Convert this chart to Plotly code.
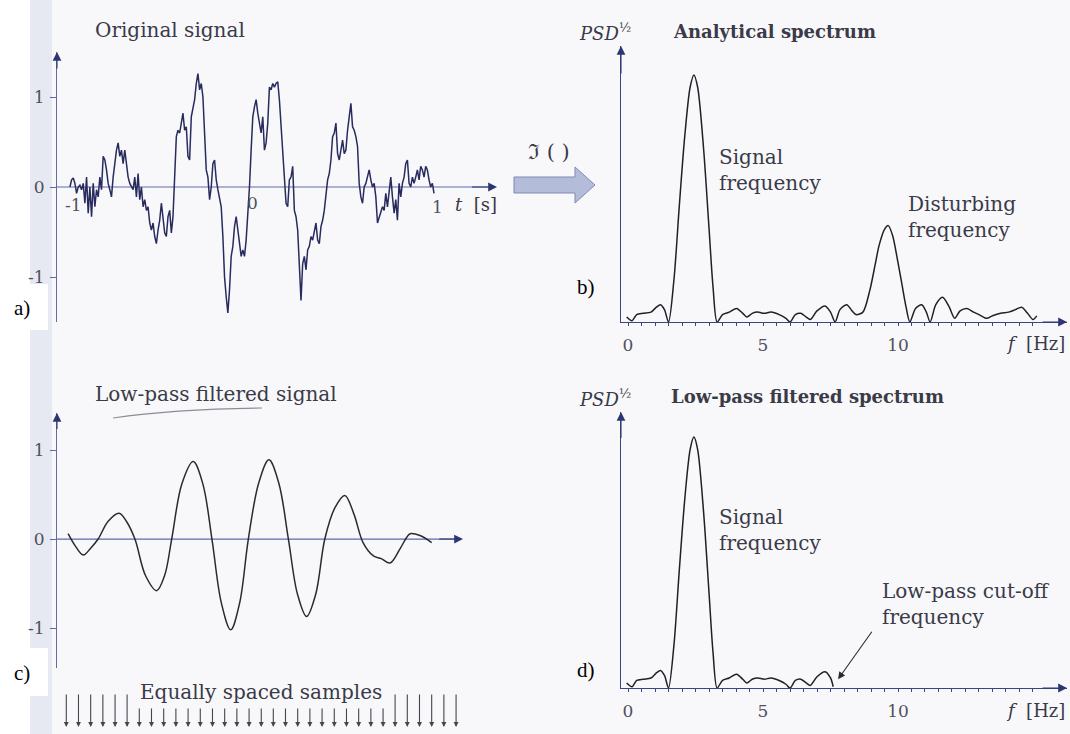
import plotly.graph_objects as go

W, H = 1070, 734

# ---------------- data ----------------
# a) original noisy signal, uniformly sampled from t = -1 s to t = 1 s
orig_t_range = [-1.0, 1.0]
orig_signal = [
    0.00, 0.08, 0.10, 0.04, -0.07, 0.00, 0.02, -0.03, 0.04, -0.18,
    0.11, -0.29, 0.00, -0.33, 0.04, -0.22, -0.03, -0.11, 0.11, -0.03,
    0.34, 0.30, 0.19, 0.04, -0.03, -0.11, 0.11, 0.30, 0.41, 0.49,
    0.34, 0.41, 0.26, 0.41, 0.23, 0.11, 0.04, 0.00, -0.03, 0.11,
    -0.11, 0.15, -0.14, 0.00, -0.22, -0.14, -0.26, -0.22, -0.40, -0.48,
    -0.40, -0.55, -0.63, -0.48, -0.37, -0.18, -0.33, -0.51, -0.55, -0.33,
    -0.26, -0.51, -0.33, 0.11, 0.56, 0.63, 0.60, 0.71, 0.82, 0.63,
    0.67, 0.34, 0.30, 0.78, 0.89, 0.97, 1.15, 1.26, 1.08, 1.15,
    1.00, 0.56, 0.19, 0.11, -0.14, 0.00, 0.26, 0.30, 0.08, -0.03,
    -0.11, -0.22, -0.55, -1.00, -1.22, -1.40, -1.14, -0.77, -0.66, -0.44,
    -0.33, -0.48, -0.63, -0.77, -0.70, -0.77, -0.59, -0.33,
    0.00, 0.41, 0.78, 0.89, 0.97, 0.82, 0.71, 0.60, 0.78, 0.41,
    0.49, 0.71, 1.11, 1.08, 1.15, 1.11, 1.15, 1.17, 0.97, 0.67,
    0.34, 0.11, -0.18, -0.22, 0.08, 0.11, 0.23, -0.26, -0.33, -0.48,
    -0.85, -1.26, -0.85, -0.77, -0.92, -0.70, -0.66, -0.55, -0.59, -0.48,
    -0.40, -0.59, -0.63, -0.44, -0.37, -0.26, -0.11, 0.08, 0.15, 0.30,
    0.56, 0.60, 0.71, 0.37, 0.30, 0.41, 0.52, 0.37, 0.41, 0.63,
    0.82, 0.93, 0.67, 0.63, 0.56, 0.45, 0.04, -0.11, -0.18, 0.00,
    0.04, 0.11, 0.19, 0.08, 0.00, 0.04, -0.11, -0.40, -0.33, -0.26,
    -0.22, -0.26, -0.07, -0.22, -0.03, 0.11, -0.11, -0.29, -0.14, -0.37,
    0.04, -0.11, 0.04, 0.11, 0.26, 0.30, 0.04, 0.00, 0.11, 0.04,
    0.11, 0.19, 0.08, 0.23, 0.19, 0.11, 0.23, 0.19, 0.08, 0.00,
    0.04, -0.07,
]

# c) low-pass filtered signal
filt_t = [-1.01, -0.97, -0.927, -0.885, -0.845, -0.79, -0.73, -0.69, -0.643,
          -0.585, -0.524, -0.48, -0.441, -0.385, -0.323, -0.27, -0.22, -0.168,
          -0.117, -0.068, -0.02, 0.037, 0.093, 0.147, 0.20, 0.25, 0.30, 0.35,
          0.40, 0.455, 0.51, 0.56, 0.61, 0.667, 0.71, 0.758, 0.813, 0.85,
          0.868, 0.923, 0.987]
filt_v = [0.06, -0.08, -0.18, -0.10, 0.0, 0.20, 0.29, 0.20, 0.0,
          -0.41, -0.58, -0.41, 0.0, 0.62, 0.87, 0.62, 0.0, -0.72,
          -1.02, -0.72, 0.0, 0.63, 0.89, 0.63, 0.0, -0.62, -0.87, -0.62,
          0.0, 0.35, 0.49, 0.28, -0.04, -0.19, -0.22, -0.27, -0.11, 0.02,
          0.06, 0.04, -0.04]

# equally spaced sample instants (s); long arrows at both ends
sample_t = [-1.02, -0.953, -0.886, -0.819, -0.752, -0.686, -0.619, -0.552,
            -0.485, -0.418, -0.351, -0.284, -0.217, -0.150, -0.083, -0.016,
            0.051, 0.117, 0.184, 0.251, 0.318, 0.385, 0.452, 0.519, 0.586,
            0.653, 0.720, 0.786, 0.853, 0.920, 0.987, 1.054, 1.121]
sample_long = [True] * 6 + [False] * 21 + [True] * 6

# b) analytical spectrum, PSD^1/2 (normalised) vs f [Hz]
spec_f = [-0.05, 0.15, 0.32, 0.57, 0.85, 1.05, 1.2, 1.35, 1.5, 1.7,
          1.9, 2.1, 2.3, 2.44, 2.58, 2.8, 3.0, 3.15, 3.3, 3.5,
          3.75, 4.02, 4.25, 4.4, 4.6, 4.8, 5.05, 5.3, 5.6, 5.85,
          6.0, 6.2, 6.4, 6.6, 6.75, 7.0, 7.3, 7.5, 7.67, 7.85,
          8.1, 8.3, 8.45, 8.7, 8.96, 9.15, 9.3, 9.5, 9.64, 9.8,
          10.0, 10.15, 10.3, 10.44, 10.65, 10.88, 11.05, 11.19, 11.4, 11.65,
          11.9, 12.1, 12.3, 12.55, 12.8, 13.0, 13.28, 13.5, 13.8, 14.1,
          14.35, 14.58, 14.8, 15.0, 15.14]
spec_v = [0.02, 0.005, 0.03, 0.035, 0.04, 0.06, 0.07, 0.05, 0.0, 0.17,
          0.47, 0.75, 0.95, 1.0, 0.95, 0.70, 0.38, 0.14, 0.0, 0.03,
          0.04, 0.055, 0.035, 0.02, 0.035, 0.04, 0.035, 0.04, 0.03, 0.015,
          0.0, 0.03, 0.035, 0.02, 0.01, 0.045, 0.065, 0.04, 0.0, 0.05,
          0.07, 0.045, 0.03, 0.04, 0.13, 0.23, 0.31, 0.375, 0.39, 0.35,
          0.24, 0.15, 0.06, 0.0, 0.055, 0.07, 0.04, 0.0, 0.07, 0.10,
          0.06, 0.015, 0.045, 0.055, 0.04, 0.03, 0.015, 0.025, 0.035, 0.04,
          0.05, 0.06, 0.035, 0.01, 0.025]

# d) low-pass filtered spectrum
lp_f = [-0.05, 0.15, 0.32, 0.57, 0.85, 1.05, 1.2, 1.35, 1.5, 1.7,
        1.9, 2.1, 2.3, 2.44, 2.58, 2.8, 3.0, 3.15, 3.3, 3.5,
        3.75, 4.02, 4.25, 4.4, 4.6, 4.8, 5.05, 5.3, 5.6, 5.85,
        6.0, 6.2, 6.4, 6.6, 6.75, 7.0, 7.3, 7.5, 7.6]
lp_v = [0.02, 0.005, 0.03, 0.035, 0.04, 0.06, 0.07, 0.05, 0.0, 0.17,
        0.47, 0.75, 0.95, 1.0, 0.95, 0.70, 0.38, 0.14, 0.0, 0.03,
        0.04, 0.055, 0.035, 0.02, 0.035, 0.04, 0.035, 0.04, 0.03, 0.015,
        0.0, 0.03, 0.035, 0.02, 0.01, 0.045, 0.065, 0.04, 0.005]

signal_ticks = [-1, 0, 1]
signal_ticktext = ["-1", "0", "1"]
freq_ticks = [0, 5, 10]
freq_ticktext = ["0", "5", "10"]
freq_minor = [0.5 * k for k in range(31)]

# ---------------- style ----------------
SERIF = "DejaVu Serif"
TIMES = "Liberation Serif"
TXT = "#3a3a48"
TICK_TXT = "#50505c"
AX_A = "#5f6aa6"
AX_B = "#394684"
HEAD = "#2c3572"
SIG = "#272b5e"
CURVE = "#202028"

def PX(x):
    return x / W

def PY(y):
    return 1 - y / H

n = len(orig_signal)
orig_t = [orig_t_range[0] + i * (orig_t_range[1] - orig_t_range[0]) / (n - 1) for i in range(n)]

fig = go.Figure()
fig.add_trace(go.Scatter(x=orig_t, y=orig_signal, mode="lines", xaxis="x", yaxis="y",
                         line=dict(color=SIG, width=1.5), hoverinfo="skip", showlegend=False))
fig.add_trace(go.Scatter(x=spec_f, y=spec_v, mode="lines", xaxis="x2", yaxis="y2",
                         line=dict(color=CURVE, width=1.5, shape="spline", smoothing=0.8),
                         hoverinfo="skip", showlegend=False))
fig.add_trace(go.Scatter(x=filt_t, y=filt_v, mode="lines", xaxis="x3", yaxis="y3",
                         line=dict(color="#2a2a33", width=1.5, shape="spline", smoothing=1.0),
                         hoverinfo="skip", showlegend=False))
fig.add_trace(go.Scatter(x=lp_f, y=lp_v, mode="lines", xaxis="x4", yaxis="y4",
                         line=dict(color=CURVE, width=1.5, shape="spline", smoothing=0.8),
                         hoverinfo="skip", showlegend=False))

tickfont = dict(family=SERIF, size=17, color=TICK_TXT)

def sig_yaxis(dom, rng, anchor):
    return dict(domain=dom, range=rng, anchor=anchor, showline=True, linecolor=AX_A,
                linewidth=1.2, ticks="outside", ticklen=6, tickwidth=1.2, tickcolor=AX_A,
                tickvals=signal_ticks, ticktext=signal_ticktext, tickfont=tickfont,
                ticklabelstandoff=2, showgrid=False, zeroline=False, fixedrange=True)

def freq_xaxis(dom, anchor):
    return dict(domain=dom, range=[-0.26, 16.26], anchor=anchor, showline=True,
                linecolor=AX_B, linewidth=1.2, ticks="outside", ticklen=3, tickcolor=AX_B,
                tickvals=freq_ticks, ticktext=freq_ticktext, tickfont=tickfont,
                ticklabelstandoff=4, showgrid=False, zeroline=False, fixedrange=True,
                minor=dict(tickvals=freq_minor, ticks="outside", ticklen=3, tickcolor=AX_B))

def freq_yaxis(dom, rng, anchor):
    return dict(domain=dom, range=rng, anchor=anchor, showline=True, linecolor=AX_B,
                linewidth=1.2, ticks="", showticklabels=False, showgrid=False,
                zeroline=False, fixedrange=True)

fig.update_layout(
    width=W, height=H, margin=dict(l=0, r=0, t=0, b=0),
    paper_bgcolor="#f8f8fa", plot_bgcolor="rgba(0,0,0,0)", showlegend=False,
    xaxis=dict(domain=[PX(57), PX(497)], range=[-1.071, 1.346], visible=False, anchor="y",
               fixedrange=True),
    yaxis=sig_yaxis([PY(322), PY(52)], [-1.5, 1.5], "x"),
    xaxis2=freq_xaxis([PX(621), PX(1067)], "y2"),
    yaxis2=freq_yaxis([PY(322), PY(46)], [0, 1.117], "x2"),
    xaxis3=dict(domain=[PX(57), PX(463)], range=[-1.071, 1.159], visible=False, anchor="y3",
                fixedrange=True),
    yaxis3=sig_yaxis([PY(668), PY(413)], [-1.449, 1.416], "x3"),
    xaxis4=freq_xaxis([PX(621), PX(1067)], "y4"),
    yaxis4=freq_yaxis([PY(688), PY(412)], [0, 1.10], "x4"),
)

shapes = []
# white page margin, scan shadow strip on the left and white label boxes
shapes.append(dict(type="rect", xref="paper", yref="paper", x0=0, x1=PX(30), y0=0, y1=1,
                   fillcolor="white", line=dict(width=0), layer="below"))
shapes.append(dict(type="rect", xref="paper", yref="paper", x0=PX(30), x1=PX(52), y0=0, y1=1,
                   fillcolor="#e6e9f2", line=dict(width=0), layer="below"))
for (y0, y1) in [(284, 330), (648, 696)]:
    shapes.append(dict(type="rect", xref="paper", yref="paper", x0=0, x1=PX(48),
                       y0=PY(y1), y1=PY(y0), fillcolor="white", line=dict(width=0), layer="below"))
# horizontal zero axes of the time signals
shapes.append(dict(type="line", xref="x", yref="y", x0=-1.071, x1=1.30, y0=0, y1=0,
                   line=dict(color=AX_A, width=1.2), layer="below"))
shapes.append(dict(type="line", xref="x3", yref="y3", x0=-1.071, x1=1.12, y0=0, y1=0,
                   line=dict(color=AX_A, width=1.2), layer="below"))
# Fourier transform block arrow
pts = [(514, 177), (575, 177), (575, 167), (595, 185), (575, 203), (575, 193), (514, 193)]
path = "M " + " L ".join(f"{PX(x):.5f},{PY(y):.5f}" for x, y in pts) + " Z"
shapes.append(dict(type="path", xref="paper", yref="paper", path=path,
                   fillcolor="#b3bcd9", line=dict(color="#7f8ab4", width=1)))
# pencil underline under the c) title
up = f"M {PX(113):.5f},{PY(418):.5f} Q {PX(175):.5f},{PY(409):.5f} {PX(262):.5f},{PY(408):.5f}"
shapes.append(dict(type="path", xref="paper", yref="paper", path=up,
                   line=dict(color="#8c8c98", width=1.2)))
fig.update_layout(shapes=shapes)

ann = []

def arrow(xr, yr, x, y, ax, ay, color=HEAD, size=1.6, width=1.1):
    ann.append(dict(xref=xr, yref=yr, x=x, y=y, ax=ax, ay=ay, axref=xr, ayref=yr, text="",
                    showarrow=True, arrowhead=2, arrowsize=size, arrowwidth=width,
                    arrowcolor=color))

# axis arrowheads
arrow("x", "y", 1.346, 0, 1.20, 0)
arrow("x", "y", -1.071, 1.5, -1.071, 1.3)
arrow("x3", "y3", 1.159, 0, 1.02, 0)
arrow("x3", "y3", -1.071, 1.416, -1.071, 1.22)
arrow("x2", "y2", 16.26, 0, 15.3, 0)
arrow("x2", "y2", -0.26, 1.117, -0.26, 1.0)
arrow("x4", "y4", 16.26, 0, 15.3, 0)
arrow("x4", "y4", -0.26, 1.10, -0.26, 0.99)

def text(x, y, s, size=20, color=TXT, family=SERIF, xanchor="center", yanchor="middle",
         align="left"):
    ann.append(dict(xref="paper", yref="paper", x=PX(x), y=PY(y), text=s, showarrow=False,
                    xanchor=xanchor, yanchor=yanchor, align=align,
                    font=dict(family=family, size=size, color=color)))

# panel a
text(93, 30, "Original signal", xanchor="left")
for tv, lab, dx, dy in [(-1, "-1", 4, -18), (0, "0", 1, -16), (1, "1", 3, -20)]:
    ann.append(dict(xref="x", yref="y", x=tv, y=0, text=lab, showarrow=False, xshift=dx,
                    yshift=dy, font=tickfont))
text(499, 205, "<i>t</i>\u00a0\u00a0[s]", size=18, xanchor="right")
text(12, 308, "a)", size=21, color="black", family=TIMES, xanchor="left")
text(549, 152, "\u2111 ( )", size=21)

# panel b
text(633, 32, "<i>PSD</i><sup>\u00bd</sup>", size=18, xanchor="right")
text(671, 32, "<b>Analytical spectrum</b>", size=18, xanchor="left")
text(717, 170, "Signal<br>frequency", xanchor="left")
text(906, 217, "Disturbing<br>frequency", xanchor="left")
text(575, 287, "b)", size=21, color="black", family=TIMES, xanchor="left")
text(1067, 343, "<i>f</i>\u00a0\u00a0[Hz]", size=18, xanchor="right")

# panel c
text(93, 394, "Low-pass filtered signal", xanchor="left")
text(12, 673, "c)", size=21, color="black", family=TIMES, xanchor="left")
text(261, 692, "Equally spaced samples")
for ts, lg in zip(sample_t, sample_long):
    ann.append(dict(xref="x3", yref="paper", x=ts, y=PY(727), ax=0, ay=-(34 if lg else 20),
                    text="", showarrow=True, arrowhead=2, arrowsize=0.9, arrowwidth=1.1,
                    arrowcolor="#45454f"))

# panel d
text(633, 398, "<i>PSD</i><sup>\u00bd</sup>", size=18, xanchor="right")
text(669, 396, "<b>Low-pass filtered spectrum</b>", size=18, xanchor="left")
text(717, 530, "Signal<br>frequency", xanchor="left")
text(880, 604, "Low-pass cut-off<br>frequency", xanchor="left")
text(575, 670, "d)", size=21, color="black", family=TIMES, xanchor="left")
text(1067, 710, "<i>f</i>\u00a0\u00a0[Hz]", size=18, xanchor="right")
ann.append(dict(xref="x4", yref="y4", x=7.78, y=0.035, ax=9.07, ay=0.23, axref="x4",
                ayref="y4", text="", showarrow=True, arrowhead=2, arrowsize=1.3,
                arrowwidth=1.1, arrowcolor="#2a2a33"))

fig.update_layout(annotations=ann)
fig.write_html("out.html", config={"displayModeBar": False},
               post_script="document.body.style.margin='0';"
                           "document.body.style.overflow='hidden';")
